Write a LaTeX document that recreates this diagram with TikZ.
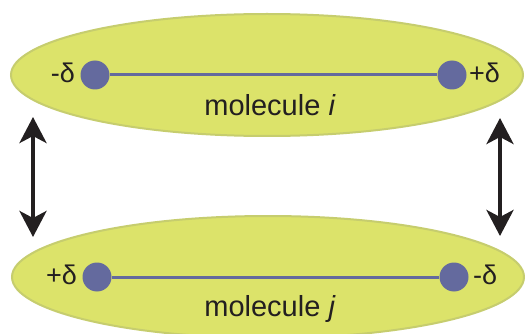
\documentclass[tikz,border=0pt]{standalone}
\usepackage{fontspec}
\setmainfont{Liberation Sans}
\usetikzlibrary{arrows.meta,shapes.geometric}
\definecolor{ellfill}{RGB}{220,227,106}
\definecolor{elldraw}{RGB}{198,205,110}
\definecolor{atom}{RGB}{100,106,158}
\definecolor{arr}{RGB}{35,31,32}
\tikzset{
  mol/.style={ellipse, draw=elldraw, fill=ellfill, line width=2pt, inner sep=0pt, minimum width=512pt, minimum height=122pt},
  atomdot/.style={circle, fill=atom, minimum size=29pt, inner sep=0pt},
  bond/.style={draw=atom, line width=3pt},
  charge/.style={font=\fontsize{27}{32}\selectfont, inner sep=0pt, text=arr},
  mlabel/.style={font=\fontsize{29}{34}\selectfont, inner sep=0pt, text=arr},
  dblarrow/.style={draw=arr, line width=4pt, {Stealth[length=26pt,width=27pt,inset=7pt]}-{Stealth[length=26pt,width=27pt,inset=7pt]}}
}
\begin{document}
\begin{tikzpicture}[x=1pt,y=-1pt]
\clip (0,0) rectangle (525,334);
\fill[white] (0,0) rectangle (525,334);
% top molecule
\node[mol] (e1) at (267,75) {};
\node[atomdot] (a1) at (95,75) {};
\node[atomdot] (a2) at (452,75) {};
\draw[bond] (a1) -- (a2);
\node[charge, anchor=east] (c1) at (75,73) {-δ};
\node[charge, anchor=west] (c2) at (469,73) {+δ};
\node[mlabel] (m1) at (270,105) {molecule \textit{i}};
% bottom molecule
\node[mol] (e2) at (268,277) {};
\node[atomdot] (b1) at (97,277) {};
\node[atomdot] (b2) at (454,277) {};
\draw[bond] (b1) -- (b2);
\node[charge, anchor=east] (d1) at (77,275) {+δ};
\node[charge, anchor=west] (d2) at (473,275) {-δ};
\node[mlabel] (m2) at (270,309) {molecule \textit{j}};
% arrows
\coordinate (la) at (33,117);
\coordinate (lb) at (33,237);
\coordinate (ra) at (500,118);
\coordinate (rb) at (500,236);
\draw[dblarrow] (la) -- (lb);
\draw[dblarrow] (ra) -- (rb);
\end{tikzpicture}
\end{document}
